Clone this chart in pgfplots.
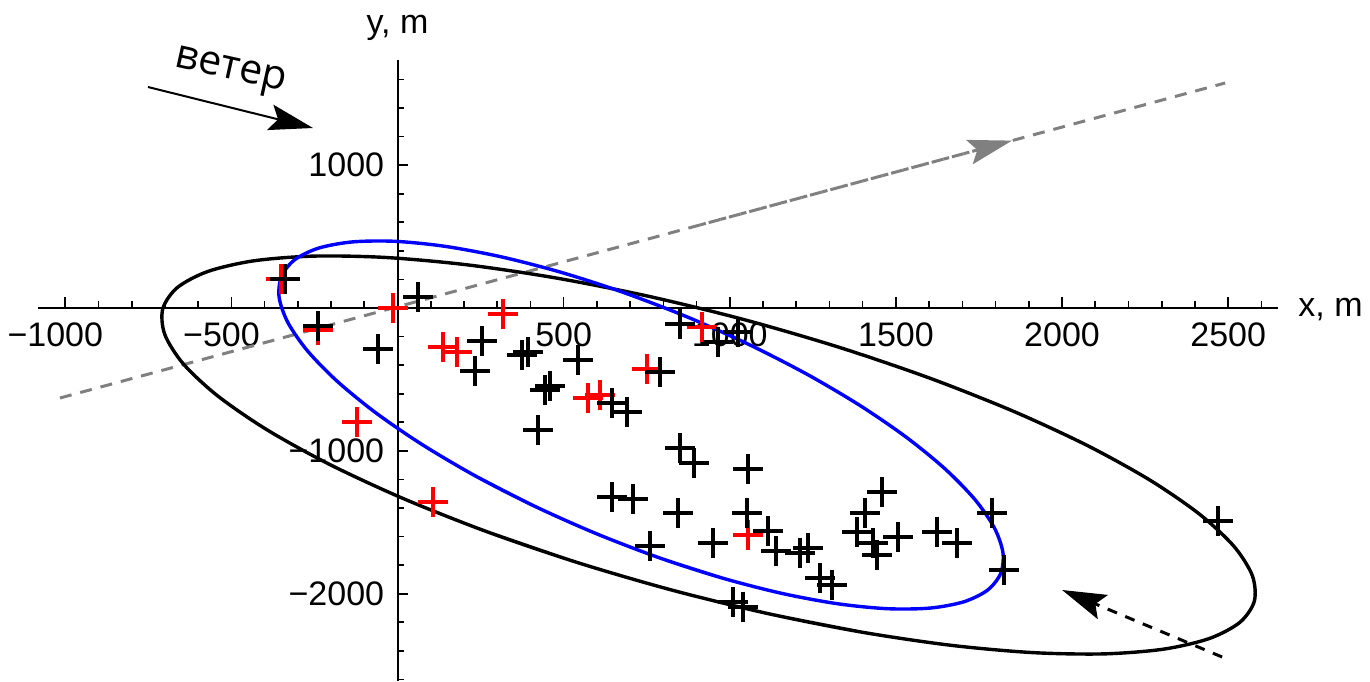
\documentclass[border=0pt]{standalone}
\usepackage{fontspec}
\setmainfont{Liberation Sans}
\newfontfamily\windfont{Open Sans}
\usepackage{pgfplots}
\pgfplotsset{compat=1.18}
\usetikzlibrary{arrows.meta}
\begin{document}
\begin{tikzpicture}
\begin{axis}[
  at={(19pt,0pt)}, anchor=south west,
  scale only axis, width=620pt, height=310.5pt,
  xmin=-1082, xmax=2650, ymin=-2611, ymax=1736,
  axis lines=middle,
  axis line style={-, line width=1pt, black},
  every inner x axis line/.append style={-},
  every inner y axis line/.append style={-},
  clip=false,
  xtick={-1000,-500,0,500,1000,1500,2000,2500},
  xticklabels={\llap{−}1000,\llap{−}500,,500,1000,1500,2000,2500},
  minor xtick={-1000,-900,...,2600},
  ytick={-2000,-1000,0,1000},
  yticklabels={−2000,−1000,,1000},
  minor ytick={-2600,-2400,...,1600},
  tick align=inside,
  major tick length=5.3pt, minor tick length=3.3pt,
  tick style={black, line width=0.8pt},
  xticklabel style={font=\fontsize{17}{20}\selectfont, inner sep=0pt, anchor=north, yshift=-7pt},
  yticklabel style={font=\fontsize{17}{20}\selectfont, inner sep=0pt, anchor=east, xshift=-6.5pt},
]
% gray dashed trajectory
\addplot[gray, line width=1.5pt, dash pattern=on 6pt off 4.5pt] coordinates {(-1015.9,-630) (2490.8,1575)};
\addplot[gray, line width=1.5pt, dash pattern=on 3pt off 7.5pt, -{Stealth[length=22pt,width=12.5pt,inset=4pt]}] coordinates {(910.5,581.5) (1849.6,1171.8)};
% black ellipse (t = 70, 80, ..., 360, ..., 110 deg)
\addplot[black, line width=1.7pt, smooth] coordinates {
(1395.5,-2268.3) (1114.0,-2138.7) (827.1,-1975.4) (543.6,-1783.3) (271.9,-1568.3)
(20.4,-1336.9) (-203.3,-1096.2) (-392.3,-853.3) (-540.9,-615.9) (-644.7,-391.0)
(-700.4,-185.4) (-706.5,-5.6) (-662.6,143.2) (-570.1,256.4) (-431.9,330.5)
(-252.1,363.3) (-36.3,353.8) (209.2,302.3) (476.7,210.3) (758.2,80.7)
(1045.1,-82.6) (1328.6,-274.7) (1600.3,-489.7) (1851.8,-721.1) (2075.5,-961.8)
(2264.5,-1204.7) (2413.1,-1442.1) (2516.9,-1667.0) (2572.6,-1872.6) (2578.7,-2052.4)
(2534.8,-2201.2) (2442.3,-2314.4) (2304.1,-2388.5) (2124.3,-2421.3) (1908.5,-2411.8)
(1663.0,-2360.3) (1395.5,-2268.3) (1114.0,-2138.7) (827.1,-1975.4) (543.6,-1783.3)
(271.9,-1568.3)};
% blue ellipse
\addplot[blue, line width=1.7pt, smooth] coordinates {
(976.0,-1889.4) (787.8,-1748.5) (597.8,-1579.2) (412.0,-1386.9) (235.8,-1177.4)
(74.8,-956.9) (-66.2,-732.2) (-182.8,-510.2) (-271.8,-297.7) (-330.1,-100.9)
(-356.3,74.1) (-349.2,221.9) (-309.3,338.1) (-237.7,419.1) (-136.6,462.5)
(-9.2,467.0) (140.8,432.4) (308.8,359.9) (489.8,251.4) (678.0,110.5)
(868.0,-58.8) (1053.8,-251.1) (1230.0,-460.6) (1391.0,-681.1) (1532.0,-905.8)
(1648.6,-1127.8) (1737.6,-1340.3) (1795.9,-1537.1) (1822.1,-1712.1) (1815.0,-1859.9)
(1775.1,-1976.1) (1703.5,-2057.1) (1602.4,-2100.5) (1475.0,-2105.0) (1325.0,-2070.4)
(1157.0,-1997.9) (976.0,-1889.4) (787.8,-1748.5) (597.8,-1579.2) (412.0,-1386.9)
(235.8,-1177.4)};
% red points
\addplot[only marks, mark=+, mark size=7.5pt, red, mark options={line width=1.8pt}] coordinates {
(-350.7,203) (-239.3,-154) (-13.5,0) (317.6,-42) (137.0,-273) (179.1,-308)
(-121.9,-798) (106.9,-1358) (573.4,-630) (609.5,-609) (751.0,-427) (916.5,-133) (1055.0,-1589)};
% black points
\addplot[only marks, mark=+, mark size=7.5pt, black, mark options={line width=1.8pt}] coordinates {
(-338.6,203) (-239.3,-126) (61.7,77) (-58.7,-287) (254.3,-231) (233.3,-441)
(374.7,-329) (392.8,-308) (543.3,-364) (444.0,-574) (459.0,-546) (422.9,-854)
(645.6,-665) (690.8,-728) (790.1,-448) (850.3,-112) (964.7,-238) (1024.9,-168)
(850.3,-980) (892.5,-1085) (1055.0,-1127) (645.6,-1323) (708.9,-1337) (844.3,-1435)
(1052.0,-1435) (760.0,-1666) (949.7,-1645) (1115.2,-1561) (1139.3,-1701) (1211.5,-1715)
(1235.6,-1680) (1271.7,-1890) (1307.8,-1939) (1009.9,-2058) (1040.0,-2093)
(1458.3,-1288) (1407.2,-1435) (1383.1,-1568) (1431.3,-1645) (1443.3,-1729)
(1506.5,-1603) (1623.9,-1568) (1684.1,-1645) (1789.4,-1435) (1825.6,-1834) (2469.7,-1491)};
% wind arrow
\addplot[black, line width=1pt, -{Stealth[length=22pt,width=13pt,inset=4pt]}] coordinates {(-751,1547) (-254.3,1260)};
% black dashed arrow
\addplot[black, line width=1.5pt, dash pattern=on 5pt off 4.5pt, -{Stealth[length=22pt,width=13pt,inset=4pt]}] coordinates {(2481.7,-2443) (2000.2,-1974)};
% labels
\node[font=\windfont\fontsize{20.5}{22}\selectfont, rotate=-12.5] at (axis cs:-504,1645) {ветер};
\node[anchor=base west, inner sep=0pt, xshift=10pt, yshift=-4.4pt, font=\fontsize{17}{20}\selectfont] at (axis cs:2650,0) {x, m};
\node[anchor=base, inner sep=0pt, yshift=13.5pt, font=\fontsize{17}{20}\selectfont] at (axis cs:0,1736) {y, m};
\end{axis}
\pgfresetboundingbox
\path[use as bounding box] (0,0) rectangle (685pt,340.5pt);
\end{tikzpicture}
\end{document}
